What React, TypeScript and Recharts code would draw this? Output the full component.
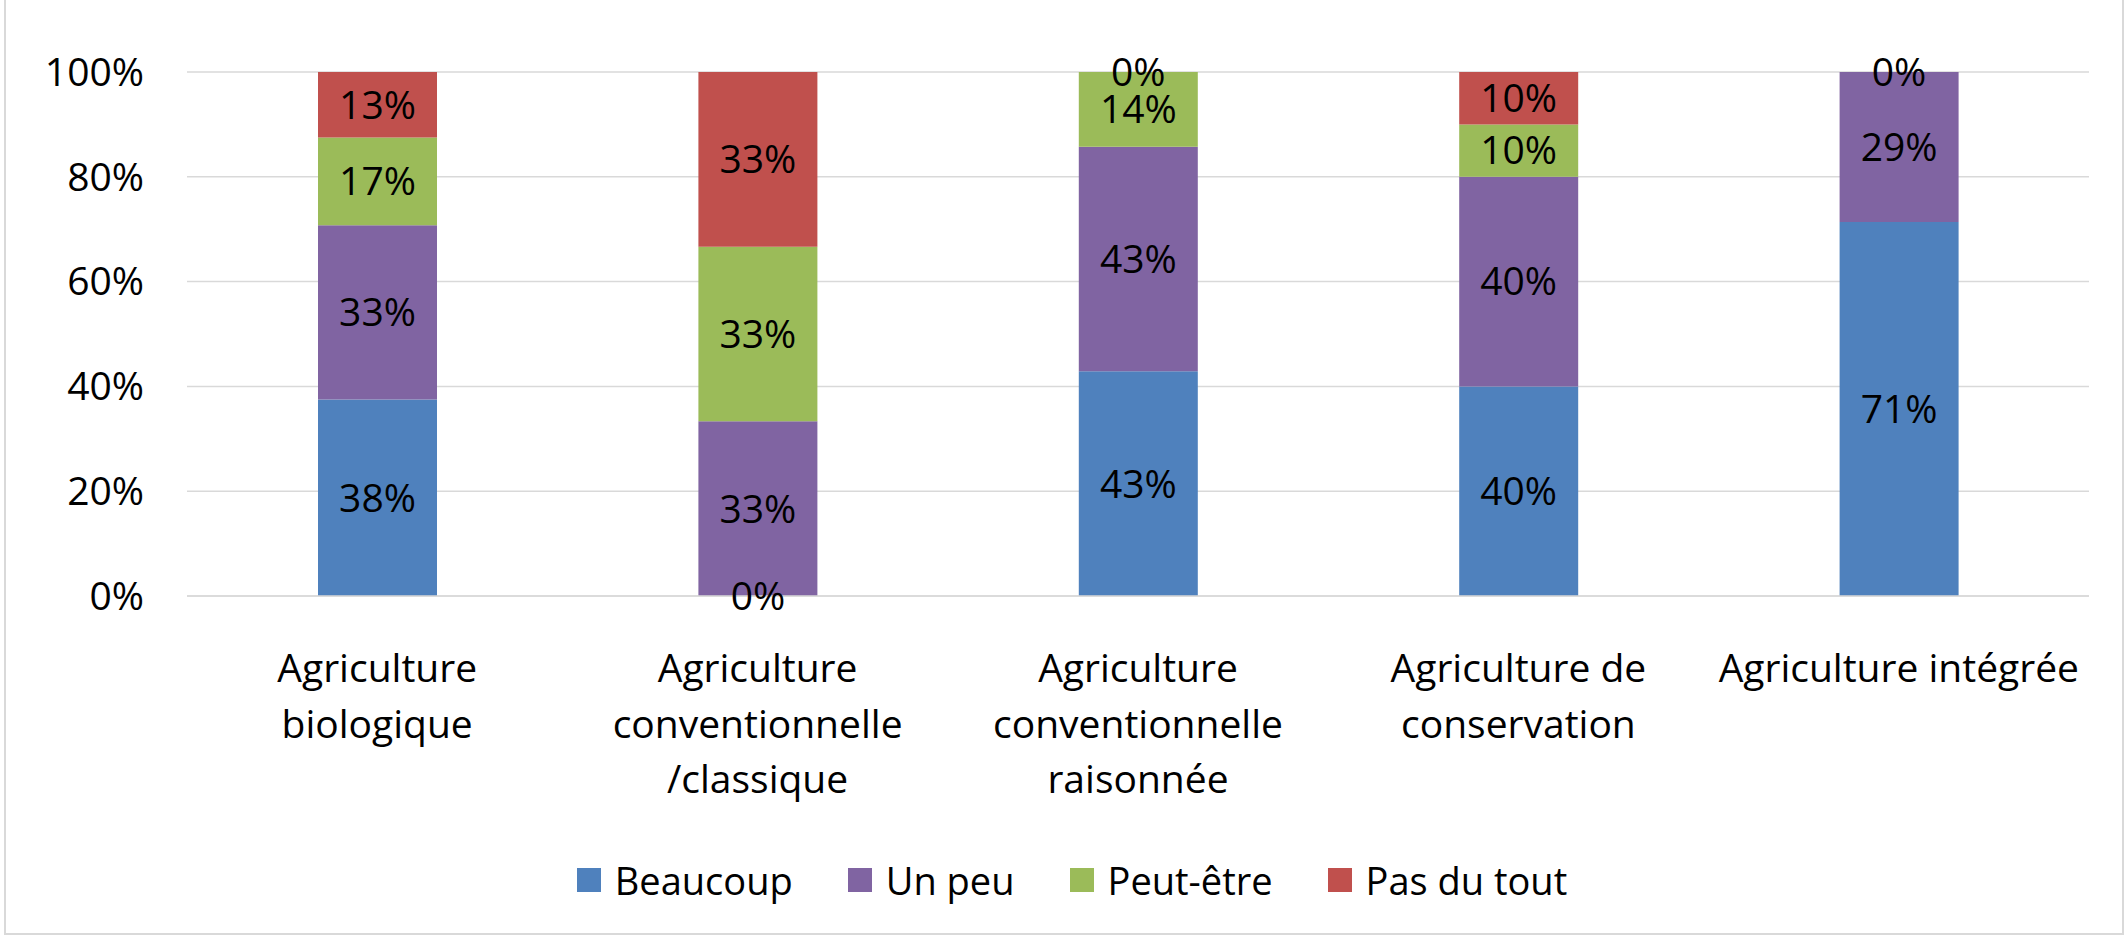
import React from "react";
import { BarChart, Bar, XAxis, YAxis, CartesianGrid, Legend, LabelList } from "recharts";

const categories = [
  "Agriculture biologique",
  "Agriculture conventionnelle /classique",
  "Agriculture conventionnelle raisonnée",
  "Agriculture de conservation",
  "Agriculture intégrée",
];
const beaucoup = [37.5, 0, 42.875, 40, 71.375];
const unPeu = [33.25, 33.33, 42.875, 40, 28.625];
const peutEtre = [16.75, 33.33, 14.25, 10, 0];
const pasDuTout: (number | null)[] = [12.5, 33.34, 0, 10, null];
const yTicks = [0, 20, 40, 60, 80, 100];

const seriesKeys = ["beaucoup", "unPeu", "peutEtre", "pasDuTout"];
const seriesNames = ["Beaucoup", "Un peu", "Peut-être", "Pas du tout"];
const seriesColors = ["#4f81bd", "#8064a2", "#9bbb59", "#c0504d"];

const data: any[] = categories.map((c, i) => ({
  name: c,
  beaucoup: beaucoup[i],
  unPeu: unPeu[i],
  peutEtre: peutEtre[i],
  pasDuTout: pasDuTout[i],
}));

const FONT = "'Open Sans', sans-serif";
const FS = 39;

let canvasCtx: CanvasRenderingContext2D | null = null;
function measure(s: string): number {
  if (!canvasCtx) {
    const c = document.createElement("canvas");
    canvasCtx = c.getContext("2d");
  }
  if (!canvasCtx) return s.length * FS * 0.55;
  canvasCtx.font = `${FS}px 'Open Sans'`;
  return canvasCtx.measureText(s).width;
}

function wrap(text: string, maxW: number): string[] {
  const words = text.split(" ");
  const lines: string[] = [];
  let cur = "";
  for (const w of words) {
    const test = cur ? cur + " " + w : w;
    if (cur && measure(test) > maxW) {
      lines.push(cur);
      cur = w;
    } else {
      cur = test;
    }
  }
  if (cur) lines.push(cur);
  return lines;
}

const XTick = (props: any) => {
  const { x, y, payload } = props;
  const lines = wrap(String(payload.value), 372);
  return (
    <text x={x} y={y + 86} textAnchor="middle" fill="#000" fontSize={FS} fontFamily={FONT}>
      {lines.map((l, i) => (
        <tspan key={i} x={x} dy={i === 0 ? 0 : 55.5}>
          {l}
        </tspan>
      ))}
    </text>
  );
};

const fmt = (v: any) => (v === null || v === undefined ? "" : `${Math.round(Number(v))}%`);

// zero-valued segments get a hairline height so their "0%" label is still drawn
const minSizeFor = (key: string) => (_v: any, idx: number) => (data[idx] && data[idx][key] === 0 ? 0.01 : 0);

const LegendContent = () => (
  <div
    style={{
      display: "flex",
      justifyContent: "center",
      alignItems: "center",
      fontFamily: FONT,
      fontSize: 38,
      lineHeight: "48px",
      color: "#000",
      paddingLeft: 18,
    }}
  >
    {seriesNames.map((n, i) => (
      <div key={n} style={{ display: "flex", alignItems: "center", marginRight: i < seriesNames.length - 1 ? 55 : 0 }}>
        <span style={{ display: "inline-block", width: 24, height: 24, background: seriesColors[i], marginRight: 14 }} />
        <span>{n}</span>
      </div>
    ))}
  </div>
);

export default function App() {
  return (
    <div style={{ position: "absolute", left: 0, top: 0, width: 2126, height: 936, background: "#fff", overflow: "hidden", fontFamily: FONT }}>
      <div
        style={{
          position: "absolute",
          left: 4,
          top: -10,
          width: 2120,
          height: 945,
          border: "2px solid #d9d9d9",
          boxSizing: "border-box",
        }}
      />
      <BarChart
        width={2126}
        height={936}
        data={data}
        margin={{ top: 72, right: 37, left: 0, bottom: 0 }}
        barSize={119}
        style={{ position: "absolute", left: 0, top: 0 }}
      >
        <CartesianGrid vertical={false} stroke="#d9d9d9" strokeWidth={1.5} />
        <XAxis
          dataKey="name"
          height={340}
          axisLine={{ stroke: "#d9d9d9", strokeWidth: 1.5 }}
          tickLine={false}
          tickSize={0}
          tickMargin={0}
          interval={0}
          tick={<XTick />}
        />
        <YAxis
          width={187}
          domain={[0, 100]}
          ticks={yTicks}
          tickFormatter={(v: number) => `${v}%`}
          axisLine={false}
          tickLine={false}
          tickSize={0}
          tickMargin={43}
          tick={{ fill: "#000", fontSize: FS, fontFamily: FONT }}
        />
        {seriesKeys.map((k, i) => (
          <Bar
            key={k}
            dataKey={k}
            name={seriesNames[i]}
            stackId="a"
            fill={seriesColors[i]}
            minPointSize={minSizeFor(k)}
            isAnimationActive={false}
          >
            <LabelList dataKey={k} position="center" formatter={fmt} fill="#000" fontSize={FS} fontFamily={FONT} />
          </Bar>
        ))}
        <Legend
          verticalAlign="middle"
          align="center"
          layout="horizontal"
          wrapperStyle={{ top: 856, left: 0, width: 2126 }}
          content={<LegendContent />}
        />
      </BarChart>
    </div>
  );
}
